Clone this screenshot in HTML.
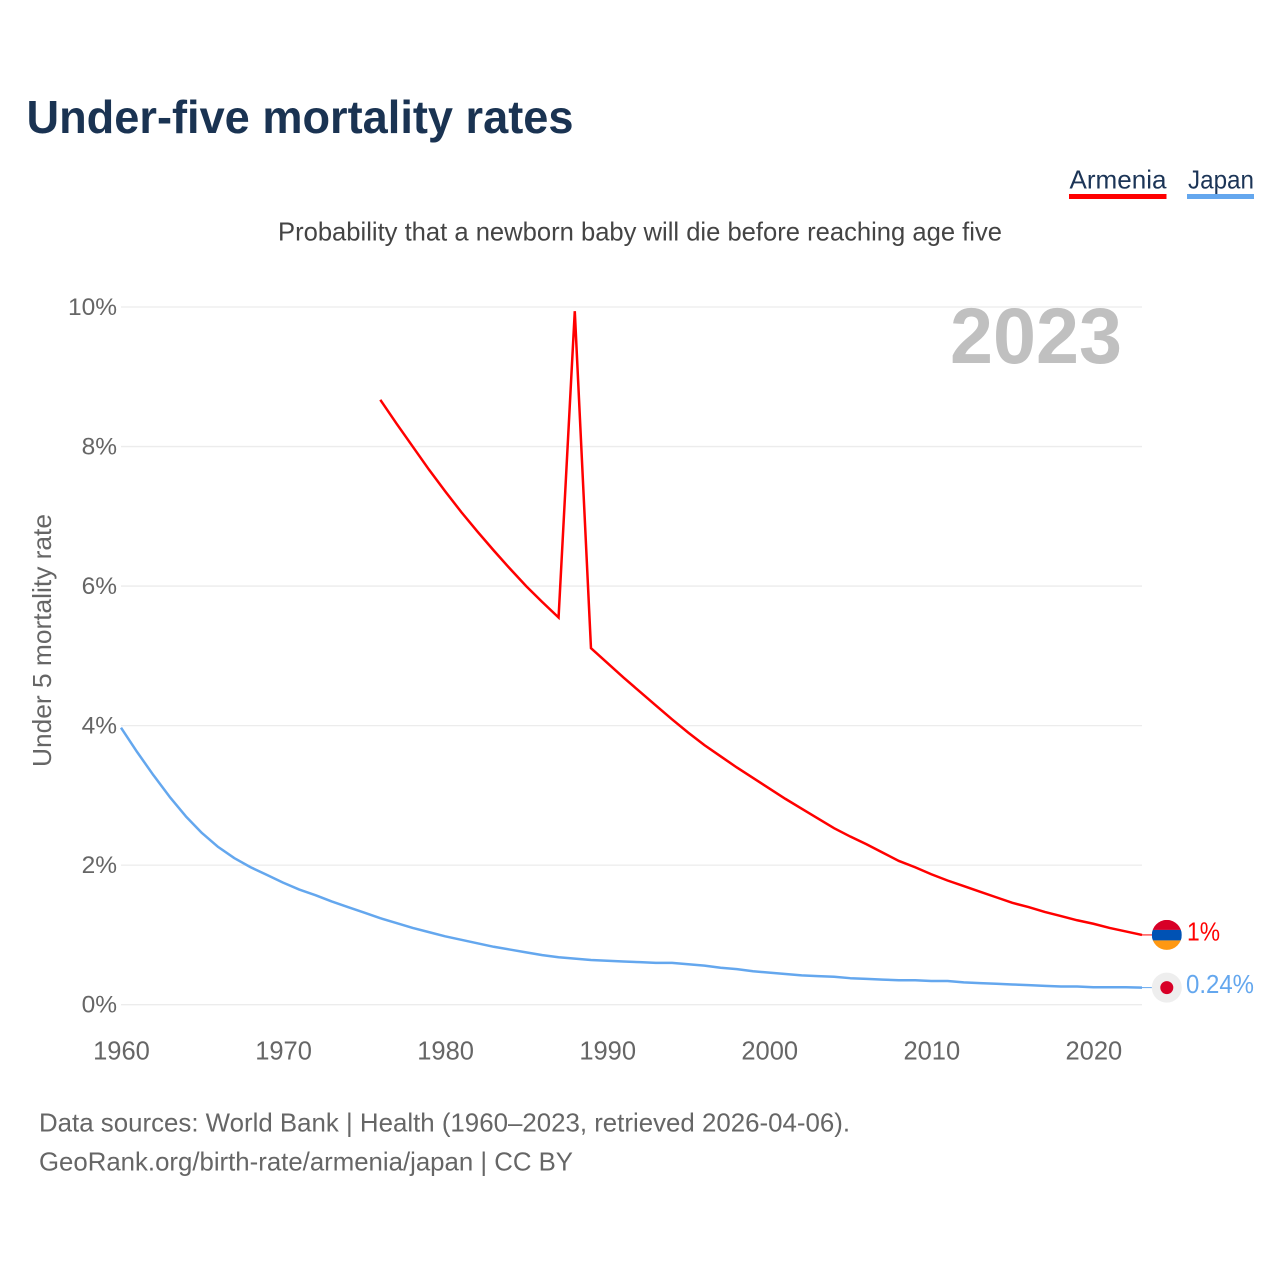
<!DOCTYPE html>
<html lang="en">
<head>
<meta charset="utf-8">
<title>Under-five mortality rates</title>
<style>
html,body{margin:0;padding:0;background:#fff;}
svg{display:block;font-family:"Liberation Sans",sans-serif;}
</style>
</head>
<body>
<svg id="chart" xmlns="http://www.w3.org/2000/svg" width="1280" height="1280" viewBox="0 0 1280 1280">
  <rect x="0" y="0" width="1280" height="1280" fill="#ffffff"/>
  <text x="26.5" y="133" font-size="46" font-weight="700" fill="#1a3352" textLength="547" lengthAdjust="spacingAndGlyphs">Under-five mortality rates</text>
  <g>
    <g>
      <text x="1069.5" y="188.5" font-size="26" fill="#1c3557" textLength="97" lengthAdjust="spacingAndGlyphs">Armenia</text>
      <rect x="1069" y="194" width="97.5" height="5" fill="#ff0000"/>
    </g>
    <g>
      <text x="1188" y="188.5" font-size="26" fill="#1c3557" textLength="66" lengthAdjust="spacingAndGlyphs">Japan</text>
      <rect x="1187" y="194" width="67" height="5" fill="#64a7ee"/>
    </g>
  </g>
  <text x="278" y="240.5" font-size="26" fill="#444444" textLength="724" lengthAdjust="spacingAndGlyphs">Probability that a newborn baby will die before reaching age five</text>
  <text transform="translate(51,767) rotate(-90)" x="0" y="0" font-size="26" fill="#666666" textLength="253" lengthAdjust="spacingAndGlyphs">Under 5 mortality rate</text>
  <g id="grid"></g>
  <g id="yticks"></g>
  <g id="xticks"></g>
  <text x="950" y="363" font-size="79" font-weight="700" fill="#c0c0c0" textLength="172" lengthAdjust="spacingAndGlyphs">2023</text>
  <g id="series"></g>
  <g id="markers"></g>
  <text x="39" y="1131.5" font-size="26" fill="#666666" textLength="811" lengthAdjust="spacingAndGlyphs">Data sources: World Bank | Health (1960–2023, retrieved 2026-04-06).</text>
  <text x="39" y="1170.5" font-size="26" fill="#666666" textLength="534" lengthAdjust="spacingAndGlyphs">GeoRank.org/birth-rate/armenia/japan | CC BY</text>
</svg>
<script>
var years = [1960,1961,1962,1963,1964,1965,1966,1967,1968,1969,
  1970,1971,1972,1973,1974,1975,1976,1977,1978,1979,
  1980,1981,1982,1983,1984,1985,1986,1987,1988,1989,
  1990,1991,1992,1993,1994,1995,1996,1997,1998,1999,
  2000,2001,2002,2003,2004,2005,2006,2007,2008,2009,
  2010,2011,2012,2013,2014,2015,2016,2017,2018,2019,
  2020,2021,2022,2023];
var armeniaValues = [null,null,null,null,null,null,null,null,null,null,
  null,null,null,null,null,null,8.67,8.33,8.0,7.67,
  7.36,7.06,6.78,6.51,6.25,6.00,5.77,5.55,9.94,5.11,
  4.90,4.69,4.49,4.29,4.09,3.90,3.72,3.56,3.40,3.25,
  3.10,2.95,2.81,2.67,2.53,2.41,2.30,2.18,2.06,1.97,
  1.87,1.78,1.70,1.62,1.54,1.46,1.40,1.33,1.27,1.21,
  1.16,1.10,1.05,1.0];
var japanValues = [3.97,3.62,3.29,2.98,2.70,2.46,2.26,2.10,1.97,1.86,
  1.75,1.65,1.57,1.48,1.40,1.32,1.24,1.17,1.10,1.04,
  0.98,0.93,0.88,0.83,0.79,0.75,0.71,0.68,0.66,0.64,
  0.63,0.62,0.61,0.60,0.60,0.58,0.56,0.53,0.51,0.48,
  0.46,0.44,0.42,0.41,0.40,0.38,0.37,0.36,0.35,0.35,
  0.34,0.34,0.32,0.31,0.30,0.29,0.28,0.27,0.26,0.26,
  0.25,0.25,0.25,0.245];
var yTickValues = [0,2,4,6,8,10];
var yTickLabels = ["0%","2%","4%","6%","8%","10%"];
var xTickValues = [1960,1970,1980,1990,2000,2010,2020];
var xTickLabels = ["1960","1970","1980","1990","2000","2010","2020"];
var armeniaEndLabel = "1%";
var japanEndLabel = "0.24%";

var NS = "http://www.w3.org/2000/svg";
var plotLeft = 121, plotRight = 1142, plotTop = 307, plotBottom = 1004.7;
function xScale(year) {
  return plotLeft + (year - 1960) * (plotRight - plotLeft) / 63;
}
function yScale(value) {
  return plotBottom - value * (plotBottom - plotTop) / 10;
}
function make(tag, attrs, parent) {
  var el = document.createElementNS(NS, tag);
  for (var k in attrs) { el.setAttribute(k, attrs[k]); }
  parent.appendChild(el);
  return el;
}
function linePath(values) {
  var d = "", pen = false;
  for (var i = 0; i < values.length; i++) {
    if (values[i] === null) { pen = false; continue; }
    d += (pen ? "L" : "M") + xScale(years[i]).toFixed(2) + " " + yScale(values[i]).toFixed(2);
    pen = true;
  }
  return d;
}
function lastValue(values) {
  for (var i = values.length - 1; i >= 0; i--) {
    if (values[i] !== null) { return values[i]; }
  }
  return 0;
}

var gridG = document.getElementById("grid");
var yG = document.getElementById("yticks");
var xG = document.getElementById("xticks");
var seriesG = document.getElementById("series");
var markersG = document.getElementById("markers");

yTickValues.forEach(function (v, i) {
  var line = make("line", {x1: plotLeft, x2: plotRight, y1: yScale(v), y2: yScale(v), stroke: "#ececec", "stroke-width": 1.3}, gridG);
  
  
  var t = make("text", {x: 117, y: yScale(v) + 8, "text-anchor": "end", "font-size": 24.5, fill: "#666666"}, yG);
  
  
  t.textContent = yTickLabels[i];
});

xTickValues.forEach(function (v, i) {
  var t = make("text", {x: xScale(v) + 0.5, y: 1059.5, "text-anchor": "middle", "font-size": 25.5, fill: "#666666"}, xG);
  
  
  t.textContent = xTickLabels[i];
});

var armeniaLine = make("path", {d: linePath(armeniaValues), fill: "none", stroke: "#ff0000", "stroke-width": 2.5, "stroke-linejoin": "miter"}, seriesG);


var japanLine = make("path", {d: linePath(japanValues), fill: "none", stroke: "#64a7ee", "stroke-width": 2.5, "stroke-linejoin": "round"}, seriesG);



var flagX = 1166.8, flagR = 15;
var armY = yScale(lastValue(armeniaValues));
var japY = yScale(lastValue(japanValues));

var armConn = make("line", {x1: plotRight, x2: flagX - flagR + 1, y1: armY, y2: armY, stroke: "#ff0000", "stroke-width": 1}, markersG);


var japConn = make("line", {x1: plotRight, x2: flagX - flagR + 1, y1: japY, y2: japY, stroke: "#64a7ee", "stroke-width": 1}, markersG);



var defs = make("defs", {}, markersG);
var clip = make("clipPath", {id: "armenia-clip"}, defs);
make("circle", {cx: flagX, cy: armY, r: flagR}, clip);
var armFlag = make("g", {"clip-path": "url(#armenia-clip)"}, markersG);


make("rect", {x: flagX - flagR, y: armY - flagR, width: 2 * flagR, height: 10, fill: "#d80027"}, armFlag);
make("rect", {x: flagX - flagR, y: armY - 5, width: 2 * flagR, height: 10.5, fill: "#0052b4"}, armFlag);
make("rect", {x: flagX - flagR, y: armY + 5.5, width: 2 * flagR, height: 10, fill: "#ff9811"}, armFlag);

var japFlag = make("g", {}, markersG);


make("circle", {cx: flagX, cy: japY, r: flagR, fill: "#eeeeee"}, japFlag);
make("circle", {cx: flagX, cy: japY, r: 6.5, fill: "#d80027"}, japFlag);

var armLabel = make("text", {x: 1187, y: armY + 7, "font-size": 25.5, fill: "#ff0000", textLength: 33, lengthAdjust: "spacingAndGlyphs"}, markersG);


armLabel.textContent = armeniaEndLabel;
armLabel.setAttribute('dy', '-1.5');
var japLabel = make("text", {x: 1186, y: japY + 6.5, "font-size": 25.5, fill: "#64a7ee", textLength: 68, lengthAdjust: "spacingAndGlyphs"}, markersG);


japLabel.textContent = japanEndLabel;
japLabel.setAttribute('dy', '-1');
</script>
</body>
</html>
